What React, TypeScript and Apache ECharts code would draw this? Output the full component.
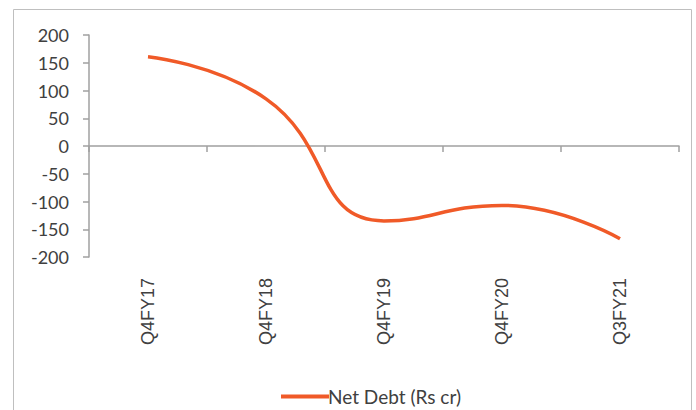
import React, { useEffect, useRef } from "react";
import * as echarts from "echarts";

const categories = ["Q4FY17", "Q4FY18", "Q4FY19", "Q4FY20", "Q3FY21"];
const netDebt = [161, 85, -135, -107, -167];
const seriesName = "Net Debt (Rs cr)";

export default function App() {
  const ref = useRef<HTMLDivElement>(null);
  useEffect(() => {
    if (!ref.current) return;
    const chart = echarts.init(ref.current, null, { renderer: "svg" });
    chart.setOption({
      animation: false,
      backgroundColor: "#ffffff",
      graphic: [
        {
          type: "rect",
          shape: { x: 13.5, y: 9.5, width: 678, height: 420 },
          style: { fill: "none", stroke: "#bfbfbf", lineWidth: 1 },
          silent: true,
        },
      ],
      grid: { left: 89, right: 17, top: 35, bottom: 153, containLabel: false },
      legend: {
        left: 276,
        top: 382,
        itemWidth: 48,
        itemHeight: 4,
        itemGap: 10,
        icon: "rect",
        data: [seriesName],
        textStyle: { fontFamily: "Lato", fontSize: 19, color: "#404040", padding: [0, 0, 0, -6] },
      },
      xAxis: [
        {
          type: "category",
          data: categories,
          boundaryGap: true,
          axisLine: { onZero: true, lineStyle: { color: "#a0a0a0", width: 1.5 } },
          axisTick: { show: true, length: 6, lineStyle: { color: "#a0a0a0", width: 1.5 } },
          axisLabel: { show: false },
          splitLine: { show: false },
        },
        {
          type: "category",
          data: categories,
          position: "bottom",
          boundaryGap: true,
          axisLine: { show: false },
          axisTick: { show: false },
          axisLabel: {
            rotate: 90,
            margin: 21,
            fontFamily: "Liberation Sans",
            fontSize: 18,
            color: "#404040",
          },
          splitLine: { show: false },
        },
      ],
      yAxis: {
        type: "value",
        min: -200,
        max: 200,
        interval: 50,
        axisLine: { show: true, lineStyle: { color: "#a0a0a0", width: 1.5 } },
        axisTick: { show: true, length: 6, lineStyle: { color: "#a0a0a0", width: 1.5 } },
        axisLabel: { margin: 20, fontFamily: "Lato", fontSize: 18, color: "#404040" },
        splitLine: { show: false },
      },
      series: [
        {
          name: seriesName,
          type: "line",
          xAxisIndex: 0,
          data: netDebt,
          smooth: 0.5,
          showSymbol: false,
          symbol: "none",
          lineStyle: { color: "#F05A28", width: 3.5 },
          itemStyle: { color: "#F05A28" },
        },
      ],
    });
    return () => chart.dispose();
  }, []);
  return (
    <div
      ref={ref}
      style={{ position: "absolute", left: 0, top: 0, width: 696, height: 410 }}
    />
  );
}
